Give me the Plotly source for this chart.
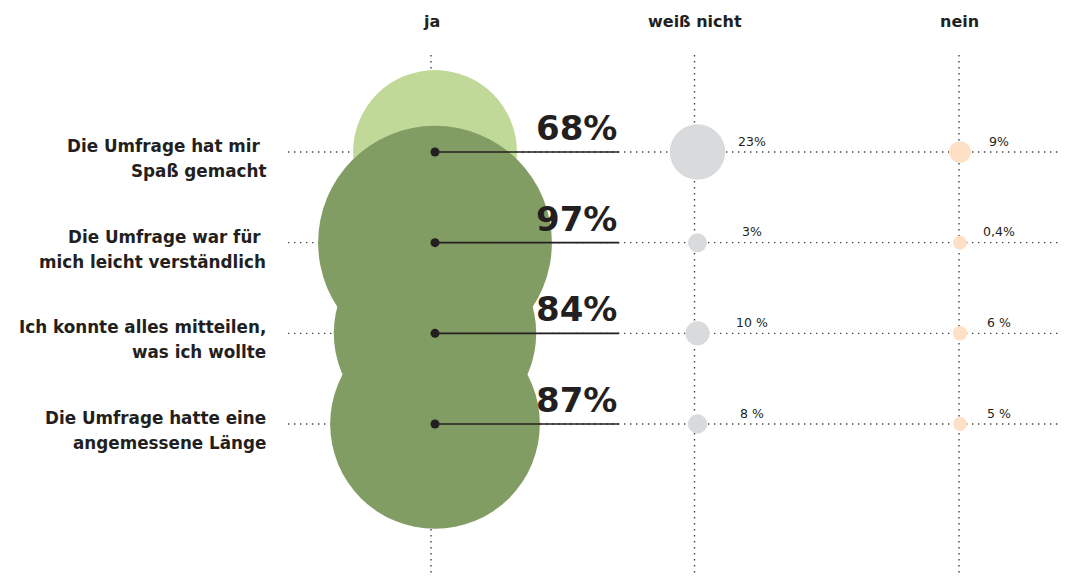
import plotly.graph_objects as go

# ---------------- data ----------------
columns = ["ja", "weiß nicht", "nein"]
questions = [
    "Die Umfrage hat mir <br>Spaß gemacht",
    "Die Umfrage war für <br>mich leicht verständlich",
    "Ich konnte alles mitteilen,<br>was ich wollte",
    "Die Umfrage hatte eine<br>angemessene Länge",
]
ja_values = [68, 97, 84, 87]
ja_labels = ["68%", "97%", "84%", "87%"]
weiss_values = [23, 3, 10, 8]
weiss_labels = ["23%", "3%", "10 %", "8 %"]
nein_values = [9, 0.4, 6, 5]
nein_labels = ["9%", "0,4%", "6 %", "5 %"]

# ---------------- styling / layout helpers ----------------
W, H = 1067, 576
PAGE_OFF = 8                # page body margin
X0PX, XS = 435.0, 262.5     # page pixel of column 0, pixels per column
Y0PX, YS = 152.0, 90.67     # page pixel of row 0, pixels per row
GRID_SHIFT_PX = [-4, -3, -1]  # dotted column guides sit slightly left of bubble centres

def px2x(p):
    return (p - X0PX) / XS

def px2y(p):
    return (p - Y0PX) / YS

PX_PER_PCT = 2.41
def diam(v, minimum):
    return max(v * PX_PER_PCT, minimum)

DARK = "#231f20"
GRID = "#444444"
LIGHT_GREEN = "#c0d998"
GREEN = "#829d63"
GREY = "#d9dadc"
PEACH = "#fde0c6"
FONT = "DejaVu Sans"

rows = list(range(len(questions)))
fig = go.Figure()

# grid lines (dotted)
shapes = []
for r in rows:
    shapes.append(dict(type="line", layer="below", x0=px2x(288), x1=px2x(W + 20), y0=r, y1=r,
                       line=dict(color=GRID, width=1.4, dash="1.4px,4.6px")))
for c in range(len(columns)):
    xc = c + GRID_SHIFT_PX[c] / XS
    shapes.append(dict(type="line", layer="below", x0=xc, x1=xc, y0=px2y(55), y1=px2y(H + 20),
                       line=dict(color=GRID, width=1.4, dash="1.4px,4.6px")))

# ja bubbles (first light, others dark), drawn in row order
ja_colors = [LIGHT_GREEN] + [GREEN] * (len(ja_values) - 1)
for r in rows:
    fig.add_trace(go.Scatter(
        x=[0], y=[r], mode="markers",
        marker=dict(size=diam(ja_values[r], 0), color=ja_colors[r], opacity=1, line=dict(width=0)),
        hoverinfo="skip", showlegend=False))

# weiß nicht / nein bubbles
fig.add_trace(go.Scatter(
    x=[1] * len(rows), y=rows, mode="markers",
    marker=dict(size=[diam(v, 19) for v in weiss_values], color=GREY, opacity=1, line=dict(width=0)),
    hoverinfo="skip", showlegend=False))
fig.add_trace(go.Scatter(
    x=[2] * len(rows), y=rows, mode="markers",
    marker=dict(size=[diam(v, 14) for v in nein_values], color=PEACH, opacity=1, line=dict(width=0)),
    hoverinfo="skip", showlegend=False))

# leader lines and centre dots for "ja"
lead_end = px2x(619)
for r in rows:
    fig.add_trace(go.Scatter(
        x=[0, lead_end], y=[r, r], mode="lines",
        line=dict(color=DARK, width=1.7),
        hoverinfo="skip", showlegend=False))
fig.add_trace(go.Scatter(
    x=[0] * len(rows), y=rows, mode="markers",
    marker=dict(size=9, color=DARK, opacity=1, line=dict(width=0)),
    hoverinfo="skip", showlegend=False))

annotations = []
# column headers
for c, name in enumerate(columns):
    annotations.append(dict(x=c + GRID_SHIFT_PX[c] / XS, y=px2y(21), text=f"<b>{name}</b>",
                            showarrow=False, xanchor="center", yanchor="middle",
                            font=dict(family=FONT, size=16, color=DARK)))
# row labels (two lines each)
for r, q in enumerate(questions):
    lines = q.split("<br>")
    for i, line in enumerate(lines):
        txt = line.replace(" ", "\u00a0") if line.endswith(" ") else line
        annotations.append(dict(x=px2x(268), y=r, text=f"<b>{txt}</b>", showarrow=False,
                                xanchor="right", yanchor="middle", yshift=6 - 25 * i,
                                font=dict(family=FONT, size=16.8, color=DARK)))
# big ja labels
for r in rows:
    annotations.append(dict(x=lead_end, y=r, text=f"<b>{ja_labels[r]}</b>", showarrow=False,
                            xanchor="right", yanchor="middle", yshift=24,
                            font=dict(family=FONT, size=34, color=DARK)))
# small labels
for r in rows:
    annotations.append(dict(x=1, y=r, text=weiss_labels[r], showarrow=False,
                            xanchor="center", yanchor="middle", xshift=54, yshift=11,
                            font=dict(family=FONT, size=12.5, color=DARK)))
    annotations.append(dict(x=2, y=r, text=nein_labels[r], showarrow=False,
                            xanchor="center", yanchor="middle", xshift=39, yshift=11,
                            font=dict(family=FONT, size=12.5, color=DARK)))

fig.update_layout(
    width=W, height=H,
    margin=dict(l=0, r=0, t=0, b=0),
    paper_bgcolor="white", plot_bgcolor="white",
    xaxis=dict(range=[px2x(PAGE_OFF), px2x(W + PAGE_OFF)], visible=False, fixedrange=True),
    yaxis=dict(range=[px2y(H + PAGE_OFF), px2y(PAGE_OFF)], visible=False, fixedrange=True),
    shapes=shapes, annotations=annotations,
    showlegend=False,
)

fig.write_html("out.html")
